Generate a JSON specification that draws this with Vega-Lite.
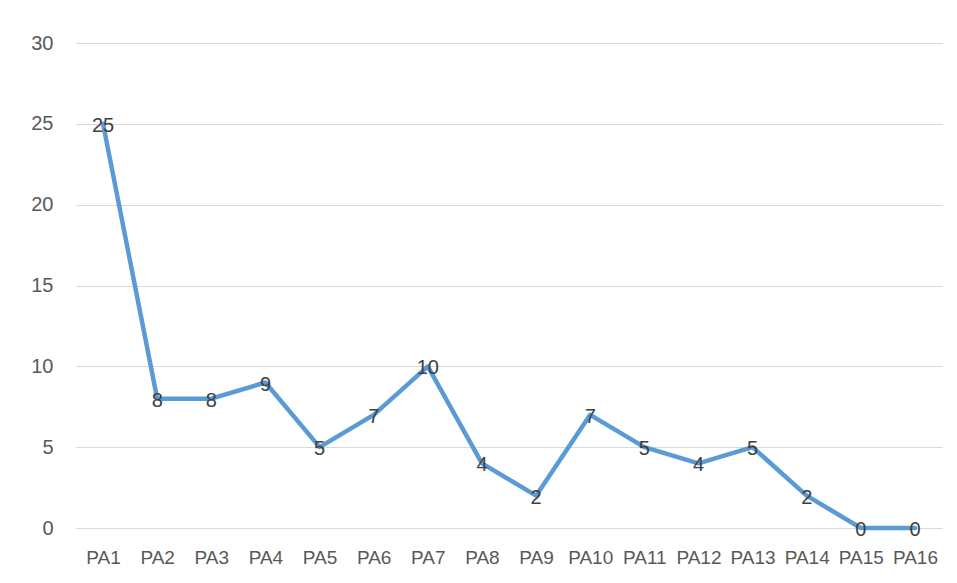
{
  "$schema": "https://vega.github.io/schema/vega-lite/v6.json",
  "autosize": "none",
  "width": 866,
  "height": 485,
  "padding": {"left": 76, "top": 43, "right": 15, "bottom": 55},
  "background": "white",
  "config": {
    "view": {"stroke": null},
    "font": "Liberation Sans"
  },
  "data": {
    "values": [
      {"item": "PA1", "value": 25},
      {"item": "PA2", "value": 8},
      {"item": "PA3", "value": 8},
      {"item": "PA4", "value": 9},
      {"item": "PA5", "value": 5},
      {"item": "PA6", "value": 7},
      {"item": "PA7", "value": 10},
      {"item": "PA8", "value": 4},
      {"item": "PA9", "value": 2},
      {"item": "PA10", "value": 7},
      {"item": "PA11", "value": 5},
      {"item": "PA12", "value": 4},
      {"item": "PA13", "value": 5},
      {"item": "PA14", "value": 2},
      {"item": "PA15", "value": 0},
      {"item": "PA16", "value": 0}
    ]
  },
  "encoding": {
    "x": {
      "field": "item", "type": "nominal", "sort": null,
      "scale": {"paddingInner": 0, "paddingOuter": 0.5},
      "axis": {"title": null, "labelAngle": 0, "ticks": false, "domain": false, "labelFontSize": 19, "labelColor": "#595959", "labelPadding": 20, "labelFont": "Liberation Sans"}
    },
    "y": {
      "field": "value", "type": "quantitative",
      "scale": {"domain": [0, 30], "nice": false},
      "axis": {"title": null, "values": [0, 5, 10, 15, 20, 25, 30], "ticks": false, "domain": false, "gridColor": "#D9D9D9", "gridWidth": 1, "labelFontSize": 20, "labelColor": "#595959", "labelPadding": 23}
    }
  },
  "layer": [
    {"mark": {"type": "line", "color": "#5B9BD5", "strokeWidth": 4.5, "strokeJoin": "round", "strokeCap": "round"}},
    {"mark": {"type": "text", "fontSize": 20, "color": "#404040", "align": "center", "baseline": "middle", "dy": 2}, "encoding": {"text": {"field": "value", "type": "quantitative"}}}
  ]
}
